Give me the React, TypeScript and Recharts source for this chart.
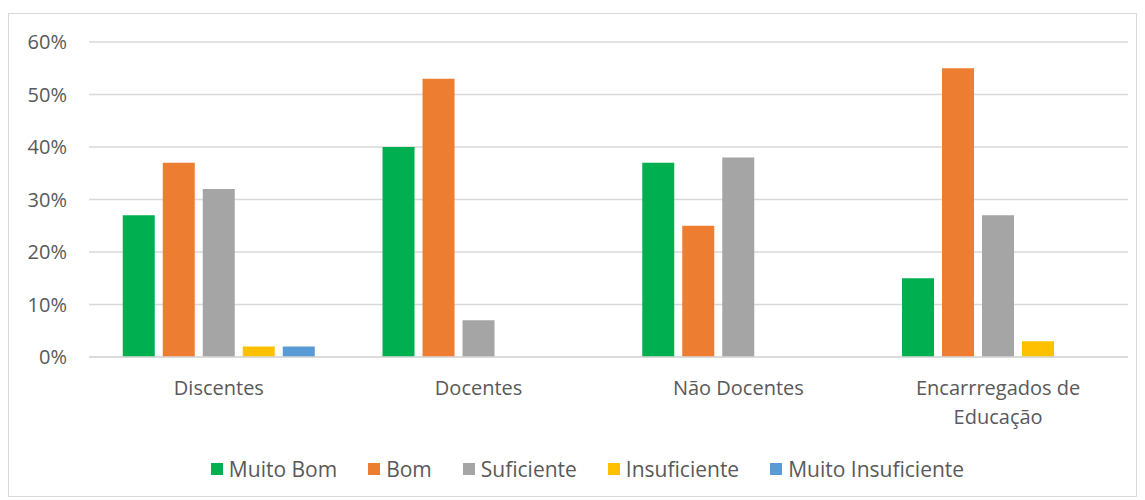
import React from "react";
import { BarChart, Bar, XAxis, YAxis, CartesianGrid, Legend } from "recharts";

const categories = ["Discentes", "Docentes", "Não Docentes", "Encarrregados de Educação"];
const seriesNames = ["Muito Bom", "Bom", "Suficiente", "Insuficiente", "Muito Insuficiente"];
const muitoBom = [27, 40, 37, 15];
const bom = [37, 53, 25, 55];
const suficiente = [32, 7, 38, 27];
const insuficiente = [2, 0, 0, 3];
const muitoInsuficiente = [2, 0, 0, 0];
const yTicks = [0, 10, 20, 30, 40, 50, 60];

const seriesValues = [muitoBom, bom, suficiente, insuficiente, muitoInsuficiente];
const seriesKeys = ["s0", "s1", "s2", "s3", "s4"];
const colors = ["#00B050", "#ED7D31", "#A5A5A5", "#FFC000", "#5B9BD5"];

const data = categories.map((c, i) => {
  const row: any = { name: c };
  seriesKeys.forEach((k, j) => {
    row[k] = seriesValues[j][i];
  });
  return row;
});

const FONT = "'Open Sans', sans-serif";
const TEXT = "#595959";

function wrap(label: string, maxChars: number): string[] {
  const words = label.split(" ");
  const lines: string[] = [];
  let cur = "";
  words.forEach((w) => {
    const test = cur ? cur + " " + w : w;
    if (test.length > maxChars && cur) {
      lines.push(cur);
      cur = w;
    } else {
      cur = test;
    }
  });
  if (cur) lines.push(cur);
  return lines;
}

const XTick = (props: any) => {
  const { x, y, payload } = props;
  const lines = wrap(String(payload.value), 18);
  return (
    <g>
      {lines.map((l, i) => (
        <text
          key={i}
          x={x}
          y={y + 38 + i * 29}
          textAnchor="middle"
          fill={TEXT}
          fontSize={20}
          fontFamily={FONT}
        >
          {l}
        </text>
      ))}
    </g>
  );
};

const LegendContent = () => (
  <div
    style={{
      display: "flex",
      justifyContent: "center",
      alignItems: "center",
      fontFamily: FONT,
      fontSize: 21,
      color: TEXT,
      paddingLeft: 30,
      height: 28,
    }}
  >
    {seriesNames.map((n, i) => (
      <div key={n} style={{ display: "flex", alignItems: "center", marginRight: i < seriesNames.length - 1 ? 31 : 0 }}>
        <span style={{ width: 12, height: 12, background: colors[i], display: "inline-block", marginRight: 6 }} />
        <span>{n}</span>
      </div>
    ))}
  </div>
);

export default function App() {
  return (
    <div style={{ paddingTop: 5 }}>
      <div style={{ width: 1127, height: 482, border: "1px solid #d9d9d9", background: "#fff" }}>
        <BarChart
          width={1127}
          height={482}
          data={data}
          margin={{ top: 28, right: 8, bottom: 31, left: 0 }}
          barCategoryGap="13%"
          barGap={8}
        >
          <CartesianGrid vertical={false} stroke="#d9d9d9" strokeWidth={1.5} />
          <XAxis
            dataKey="name"
            tick={<XTick />}
            tickLine={false}
            axisLine={{ stroke: "#d9d9d9", strokeWidth: 1.5 }}
            tickSize={0}
            tickMargin={0}
            height={80}
            interval={0}
          />
          <YAxis
            domain={[0, 60]}
            ticks={yTicks}
            tickFormatter={(v: number) => `${v}%`}
            tickLine={false}
            axisLine={false}
            tickSize={0}
            tickMargin={22}
            width={80}
            tick={{ fill: TEXT, fontSize: 20, fontFamily: FONT }}
          />
          <Legend
            content={<LegendContent />}
            wrapperStyle={{ top: 441, left: 0, width: 1127 }}
          />
          {seriesKeys.map((k, i) => (
            <Bar key={k} dataKey={k} name={seriesNames[i]} fill={colors[i]} isAnimationActive={false} />
          ))}
        </BarChart>
      </div>
    </div>
  );
}
